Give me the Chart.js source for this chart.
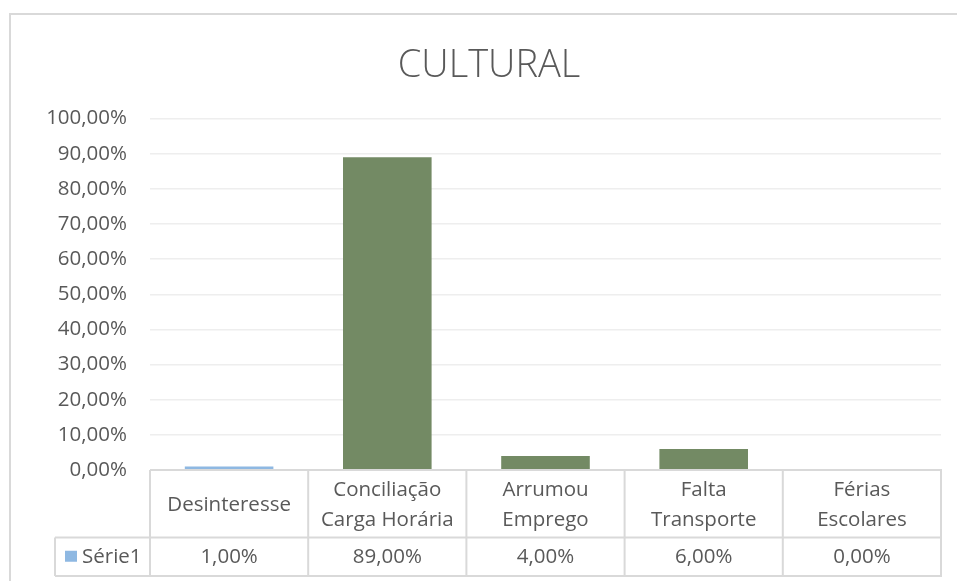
<!DOCTYPE html>
<html>
<head>
<meta charset="utf-8">
<script src="https://cdn.jsdelivr.net/npm/chart.js@4"></script>
<style>
  html, body { margin: 0; padding: 0; background: #fff; overflow: hidden; }
  #frame {
    position: absolute; left: 9px; top: 13px;
    width: 958px; height: 600px;
    border: 2px solid #d9d9d9;
  }
  canvas { display: block; }
</style>
</head>
<body>
<div id="frame"><canvas id="culturalChart" width="958" height="600"></canvas></div>
<script>
// Categories (each entry is the lines of the table header cell)
const categories = [
    ['Desinteresse'],
    ['Conciliação', 'Carga Horária'],
    ['Arrumou', 'Emprego'],
    ['Falta', 'Transporte'],
    ['Férias', 'Escolares']
];
const seriesName = 'Série1';
const seriesValues = [0.01, 0.89, 0.04, 0.06, 0.00];
const yTicks = [0, 0.1, 0.2, 0.3, 0.4, 0.5, 0.6, 0.7, 0.8, 0.9, 1.0];

const textColor = '#595959';
const lineColor = '#d9d9d9';
const blue = '#8eb8e2';
const green = '#738a64';
const fontFamily = "'Open Sans', 'DejaVu Sans', sans-serif";
const fontSize = 20.5;

function pct(v) {
    return (v * 100).toFixed(2).replace('.', ',') + '%';
}

// Draws the data table under the plot (category header row + values row)
const dataTablePlugin = {
    id: 'dataTable',
    afterDraw(chart) {
        const { ctx, chartArea: a, scales: { x } } = chart;
        const n = categories.length;
        const colW = (a.right - a.left) / n;
        const top = a.bottom;
        const mid = top + 67.5;
        const bottom = x.bottom;
        const legendLeft = a.left - 95;

        ctx.save();
        ctx.strokeStyle = lineColor;
        ctx.lineWidth = 2;
        ctx.beginPath();
        ctx.moveTo(a.left, top); ctx.lineTo(a.right + 1, top);
        ctx.moveTo(legendLeft, mid); ctx.lineTo(a.right + 1, mid);
        ctx.moveTo(legendLeft, bottom); ctx.lineTo(a.right + 1, bottom);
        for (let i = 0; i <= n; i++) {
            const lx = a.left + i * colW;
            ctx.moveTo(lx, top); ctx.lineTo(lx, bottom);
        }
        ctx.moveTo(legendLeft, mid); ctx.lineTo(legendLeft, bottom);
        ctx.stroke();

        ctx.fillStyle = textColor;
        ctx.font = fontSize + 'px ' + fontFamily;
        ctx.textAlign = 'center';
        ctx.textBaseline = 'middle';
        const headMid = (top + mid) / 2 + 1;
        const valMid = (mid + bottom) / 2;
        const lineH = 30;
        categories.forEach((lines, i) => {
            const cx = x.getPixelForValue(i);
            lines.forEach((t, j) => {
                ctx.fillText(t, cx, headMid + (j - (lines.length - 1) / 2) * lineH);
            });
            ctx.fillText(pct(seriesValues[i]), cx, valMid);
        });

        // legend key + series name
        ctx.fillStyle = blue;
        ctx.fillRect(a.left - 85, valMid - 6, 12, 11);
        ctx.fillStyle = textColor;
        ctx.textAlign = 'left';
        ctx.fillText(seriesName, a.left - 68, valMid);
        ctx.restore();
    }
};

const ctx = document.getElementById('culturalChart').getContext('2d');
new Chart(ctx, {
    type: 'bar',
    data: {
        labels: categories,
        datasets: [{
            label: seriesName,
            data: seriesValues,
            backgroundColor: [blue, green, green, green, green],
            barPercentage: 0.56,
            categoryPercentage: 1.0
        }]
    },
    options: {
        responsive: false,
        animation: false,
        layout: { padding: { left: 26, right: 28, top: 0, bottom: 39 } },
        scales: {
            x: {
                grid: { display: false },
                border: { display: false },
                ticks: { display: false },
                afterFit(scale) { scale.height = 106; }
            },
            y: {
                min: 0,
                max: 1,
                afterBuildTicks(scale) {
                    scale.ticks = yTicks.map(v => ({ value: v }));
                },
                grid: { color: '#eeeeee', lineWidth: 1.5, drawTicks: false },
                border: { display: false },
                ticks: {
                    padding: 23,
                    color: textColor,
                    font: { family: fontFamily, size: fontSize },
                    callback: v => pct(v)
                },
                afterFit(scale) { scale.width = 113; }
            }
        },
        plugins: {
            legend: { display: false },
            tooltip: { enabled: false },
            title: {
                display: true,
                text: 'CULTURAL',
                color: textColor,
                font: { family: fontFamily, size: 38, weight: 300 },
                padding: { top: 28, bottom: 30 }
            }
        }
    },
    plugins: [dataTablePlugin]
});
</script>
</body>
</html>
